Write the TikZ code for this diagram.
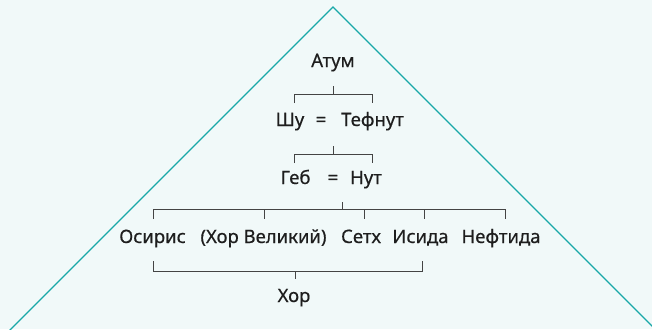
\documentclass[tikz,border=0pt]{standalone}
\usepackage{fontspec}
\setmainfont{Noto Sans}[FakeBold=0.5]
\definecolor{bgc}{HTML}{F1F9F9}
\definecolor{teal1}{HTML}{18A8A8}
\definecolor{txt}{HTML}{1E1E1E}
\definecolor{brk}{HTML}{444444}
\tikzset{
  lbl/.style={anchor=base, inner sep=0pt, text=txt, font=\fontsize{18.5}{20}\bfseries},
  brack/.style={draw=brk, line width=1pt},
  tri/.style={draw=teal1, line width=1.3pt}
}
\begin{document}
\begin{tikzpicture}[x=1pt,y=-1pt]
\useasboundingbox (0,0) rectangle (652,329);
\fill[bgc] (0,0) rectangle (652,329);
\begin{scope}
\clip (0,0) rectangle (652,329);
\coordinate (apex) at (333,7);
\coordinate (tl) at (3,337);
\coordinate (tr) at (663,337);
\draw[tri] (tl) -- (apex) -- (tr);
\end{scope}
% texts
\node[lbl] (atum) at (333,67) {Атум};
\node[lbl] (shu) at (290,126) {Шу};
\node[lbl] (eq1) at (321,126) {=};
\node[lbl] (tefnut) at (372.5,126) {Тефнут};
\node[lbl] (geb) at (295.5,184) {Геб};
\node[lbl] (eq2) at (333,184) {=};
\node[lbl] (nut) at (366,184) {Нут};
\node[lbl] (osiris) at (152.5,243) {Осирис};
\node[lbl] (horv) at (263.5,243) {(Хор Великий)};
\node[lbl] (set) at (361,243) {Сетх};
\node[lbl] (isida) at (420.5,243) {Исида};
\node[lbl] (neft) at (501,243) {Нефтида};
\node[lbl] (hor) at (294,302) {Хор};
% bracket 1
\coordinate (b1t) at (333,86);
\coordinate (b1m) at (333,94);
\coordinate (b1l) at (294,94);
\coordinate (b1r) at (372,94);
\coordinate (b1ld) at (294,103);
\coordinate (b1rd) at (372,103);
\draw[brack] (b1t) -- (b1m);
\draw[brack] (b1ld) -- (b1l) -- (b1r) -- (b1rd);
% bracket 2
\coordinate (b2t) at (333,146);
\coordinate (b2m) at (333,154);
\coordinate (b2l) at (294,154);
\coordinate (b2r) at (372,154);
\coordinate (b2ld) at (294,163);
\coordinate (b2rd) at (372,163);
\draw[brack] (b2t) -- (b2m);
\draw[brack] (b2ld) -- (b2l) -- (b2r) -- (b2rd);
% bracket 3
\coordinate (b3t) at (342,202);
\coordinate (b3m) at (342,209);
\coordinate (b3l) at (153,209);
\coordinate (b3r) at (505,209);
\coordinate (b3ld) at (153,219);
\coordinate (b3rd) at (505,219);
\coordinate (b3a) at (264,209);
\coordinate (b3ad) at (264,219);
\coordinate (b3b) at (364,209);
\coordinate (b3bd) at (364,219);
\coordinate (b3c) at (424,209);
\coordinate (b3cd) at (424,219);
\draw[brack] (b3t) -- (b3m);
\draw[brack] (b3ld) -- (b3l) -- (b3r) -- (b3rd);
\draw[brack] (b3a) -- (b3ad);
\draw[brack] (b3b) -- (b3bd);
\draw[brack] (b3c) -- (b3cd);
% bracket 4
\coordinate (b4lu) at (153,261);
\coordinate (b4l) at (153,271);
\coordinate (b4r) at (422,271);
\coordinate (b4ru) at (422,261);
\coordinate (b4m) at (295,271);
\coordinate (b4d) at (295,279);
\draw[brack] (b4lu) -- (b4l) -- (b4r) -- (b4ru);
\draw[brack] (b4m) -- (b4d);
\end{tikzpicture}
\end{document}
